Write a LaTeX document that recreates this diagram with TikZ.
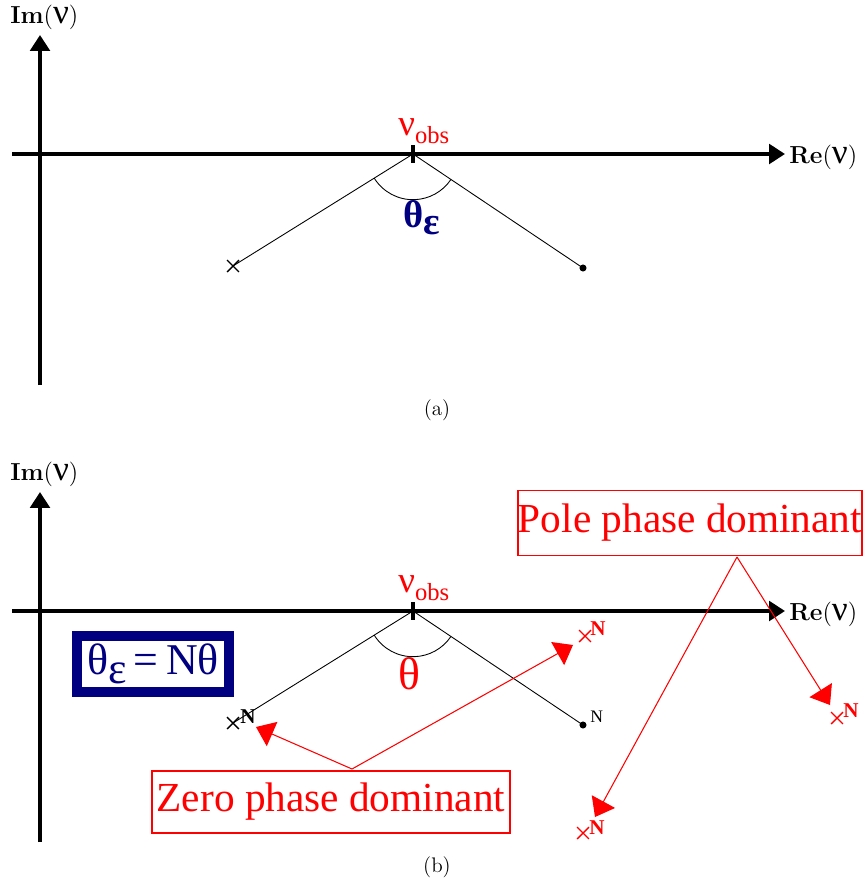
\documentclass[tikz,border=0pt]{standalone}
\usepackage{fontspec}
\usepackage{xcolor}
\newfontfamily\grkfont{Liberation Serif}
\usepackage{tikz}
\usetikzlibrary{positioning,arrows.meta,shapes.misc,calc}
\definecolor{navy}{RGB}{0,0,128}
\newcommand\bignu{{\grkfont\fontsize{20}{20}\selectfont ν}}
\newcommand\nuobs{{\grkfont\fontsize{21}{21}\selectfont ν\raisebox{-5pt}{\fontsize{14}{14}\selectfont obs}}}

\begin{document}
\begin{tikzpicture}[x=0.02cm,y=-0.02cm,
    axis/.style={line width=2.4pt,-{Triangle[length=9pt,width=11pt]}},
    ray/.style={line width=0.5pt},
    xmk/.style={cross out,draw,minimum size=6pt,inner sep=0pt,line width=0.8pt},
    dotmk/.style={circle,fill,inner sep=0pt,minimum size=4pt},
    axlbl/.style={anchor=base west,inner sep=0pt,font=\fontsize{14}{14}\selectfont},
    obslbl/.style={anchor=base west,inner sep=0pt,text=red},
    nlbl/.style={anchor=base west,inner sep=0pt,font=\grkfont\bfseries\fontsize{12}{12}\selectfont},
    callout/.style={draw=red,line width=1.1pt,text=red,inner sep=0pt,
                    font=\grkfont\fontsize{23.5}{24}\selectfont},
    pointer/.style={red,line width=0.6pt,-{Triangle[length=10pt,width=15pt]}}
  ]
  \useasboundingbox (0,0) rectangle (865,889);

  \foreach \dy/\p in {0/A,457/B}{
    \coordinate (o\p) at (413,154+\dy);
    \draw[axis] (40,385+\dy) -- (40,35+\dy);
    \draw[axis] (12,154+\dy) -- (785,154+\dy);
    \draw[line width=2.3pt] ($(o\p)+(0,-9)$) -- ($(o\p)+(0,9)$);
    \node[axlbl] (im\p) at (10,23+\dy) {\textbf{Im}(\bignu)};
    \node[axlbl] (re\p) at (789,163+\dy) {\textbf{Re}(\bignu)};
    \node[obslbl] (nu\p) at (398,135+\dy) {\nuobs};
    \node[xmk] (zero\p) at (233,266+\dy) {};
    \node[dotmk] (pole\p) at (583,268+\dy) {};
    \draw[ray] (zero\p.center) -- (o\p) -- (pole\p.center);
    \draw[ray] ($(o\p)+(212:26pt)$) arc[start angle=212,end angle=326,radius=26pt];
  }
  \node[font=\fontsize{12}{14}\selectfont] (capA) at (437,410) {(a)};
  \node[font=\fontsize{12}{14}\selectfont] (capB) at (437,867) {(b)};

  % (a)
  \node[anchor=base west,inner sep=0pt,text=navy,
        font=\grkfont\bfseries\fontsize{22}{22}\selectfont] (thA) at (403,227) {θ\raisebox{-4pt}{ε}};

  % (b)
  \node[anchor=base,inner sep=0pt,text=red,
        font=\grkfont\fontsize{26}{26}\selectfont] (thB) at (409,689) {θ};
  \node[draw=navy,line width=5.7pt,minimum width=86pt,minimum height=32pt,inner sep=0pt,
        text=navy,font=\grkfont\fontsize{25}{25}\selectfont] (rel) at (153,664) {θ\raisebox{-5pt}{ε}\,=\,Nθ};
  \node[nlbl] (zeroBn) at (240,723) {N};
  \node[anchor=base west,inner sep=0pt,font=\grkfont\fontsize{10}{10}\selectfont] (poleBn) at (590,722) {N};

  \node[xmk,red] (z1) at (585,636) {};
  \node[nlbl,text=red] (z1n) at (590,635) {N};
  \node[xmk,red] (p1) at (837,718) {};
  \node[nlbl,text=red] (p1n) at (843,717) {N};
  \node[xmk,red] (p2) at (583,833) {};
  \node[nlbl,text=red] (p2n) at (589,834) {N};

  \node[callout,minimum width=204pt,minimum height=35pt] (zbox) at (331,802) {Zero phase dominant};
  \node[callout,minimum width=195pt,minimum height=37pt] (pbox) at (690,523) {Pole phase dominant};

  \coordinate (zs) at (352,769);
  \coordinate (ps) at (737,557);
  \coordinate (zt1) at (256,727);
  \coordinate (zt2) at (573,645);
  \coordinate (pt1) at (830,705);
  \coordinate (pt2) at (595,817);
  \draw[pointer] (zs) -- (zt1);
  \draw[pointer] (zs) -- (zt2);
  \draw[pointer] (ps) -- (pt1);
  \draw[pointer] (ps) -- (pt2);
\end{tikzpicture}
\end{document}
